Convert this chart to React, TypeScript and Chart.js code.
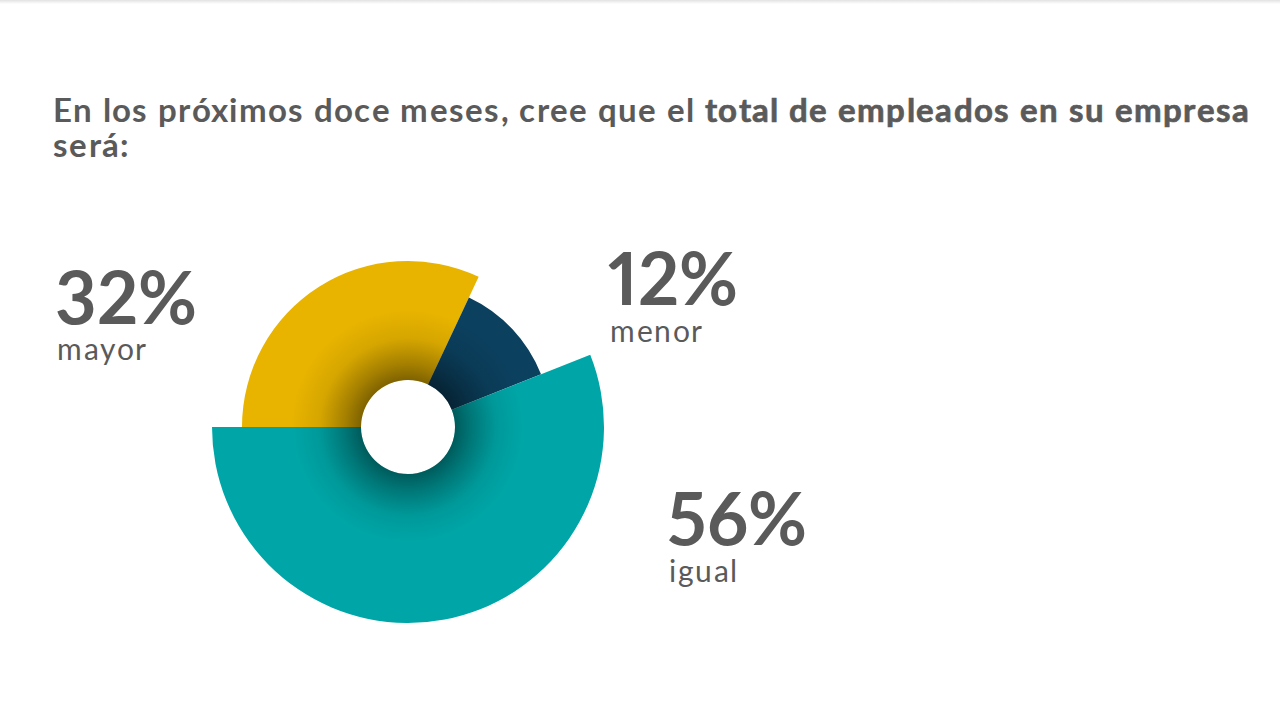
import React, { useEffect, useRef } from "react";
import { Chart, ArcElement, DoughnutController } from "chart.js";

Chart.register(ArcElement, DoughnutController);

const categories = ["mayor", "menor", "igual"];
const values = [32, 12, 56];
const valueLabels = ["32%", "12%", "56%"];
const colors = ["#E8B400", "#0B405E", "#00A6A7"];

const TEXT = "#5a5a5a";

const fontCss = `
@font-face { font-family: "LatoT"; font-weight: 400; src: local("Lato Regular"), local("Lato-Regular"), local("Lato"); ascent-override: 75%; descent-override: 22%; line-gap-override: 0%; }
@font-face { font-family: "LatoT"; font-weight: 700; src: local("Lato Bold"), local("Lato-Bold"); ascent-override: 75%; descent-override: 22%; line-gap-override: 0%; }
@font-face { font-family: "LatoP"; font-weight: 700; src: local("Lato Bold"), local("Lato-Bold"); ascent-override: 75%; descent-override: 3%; line-gap-override: 0%; }
`;

const variableRadius = {
  id: "variableRadius",
  beforeDatasetsDraw(chart: any, _args: any, opts: any) {
    const meta = chart.getDatasetMeta(0);
    const ctrl: any = meta.controller;
    meta.data.forEach((el: any, i: number) => {
      const f = opts.factors && opts.factors[i] != null ? opts.factors[i] : 1;
      el.outerRadius = ctrl.outerRadius * f;
    });
  },
};

const innerShadow = {
  id: "innerShadow",
  afterDatasetsDraw(chart: any, _args: any, opts: any) {
    const meta = chart.getDatasetMeta(0);
    const el: any = meta.data[0];
    if (!el) return;
    const { x, y, innerRadius } = el;
    const r1 = innerRadius + opts.spread;
    const ctx = chart.ctx as CanvasRenderingContext2D;
    ctx.save();
    const g = ctx.createRadialGradient(x, y, innerRadius, x, y, r1);
    g.addColorStop(0, "rgba(0,0,0,0.45)");
    g.addColorStop(0.25, "rgba(0,0,0,0.28)");
    g.addColorStop(0.6, "rgba(0,0,0,0.08)");
    g.addColorStop(1, "rgba(0,0,0,0)");
    ctx.beginPath();
    ctx.arc(x, y, r1, 0, Math.PI * 2);
    ctx.arc(x, y, innerRadius, 0, Math.PI * 2, true);
    ctx.fillStyle = g;
    ctx.fill("evenodd");
    ctx.restore();
  },
};

const labelPos = [
  { left: 55, top: 270, subTop: 337 },
  { left: 608, top: 251, subTop: 319 },
  { left: 667, top: 491, subTop: 559 },
];

export default function App() {
  const ref = useRef<HTMLCanvasElement | null>(null);

  useEffect(() => {
    if (!ref.current) return;
    const chart = new Chart(ref.current, {
      type: "doughnut",
      data: {
        labels: categories,
        datasets: [
          {
            data: values,
            backgroundColor: colors,
            borderWidth: 0,
            hoverOffset: 0,
          },
        ],
      },
      options: {
        animation: false,
        responsive: false,
        events: [],
        cutout: 47,
        rotation: -90,
        layout: { padding: 4 },
        plugins: {
          // @ts-ignore
          variableRadius: { factors: [0.847, 0.73, 1] },
          // @ts-ignore
          innerShadow: { spread: 70 },
        },
      } as any,
      plugins: [variableRadius, innerShadow] as any,
    });
    return () => chart.destroy();
  }, []);

  return (
    <div
      style={{
        position: "fixed",
        left: 0,
        top: 0,
        width: 1280,
        height: 719,
        background: "#fff",
        overflow: "hidden",
        fontFamily: "LatoT, Lato, sans-serif",
        color: TEXT,
      }}
    >
      <style>{fontCss}</style>
      <div
        style={{
          position: "absolute",
          left: 0,
          top: 0,
          width: 1280,
          height: 4,
          background: "linear-gradient(#e2e2e2, #ffffff)",
        }}
      />
      <div
        style={{
          position: "absolute",
          left: 53,
          top: 96,
          width: 1225,
          fontSize: 33,
          lineHeight: "35px",
          fontWeight: 700,
          letterSpacing: 1.3,
          whiteSpace: "nowrap",
        }}
      >
        En los próximos doce meses, cree que el{" "}
        <span style={{ WebkitTextStroke: "0.7px " + TEXT } as any}>
          total de empleados en su empresa
        </span>
        <br />
        será:
      </div>
      <canvas
        ref={ref}
        width={400}
        height={400}
        style={{ position: "absolute", left: 208, top: 227, width: 400, height: 400 }}
      />
      {categories.map((c, i) => (
        <React.Fragment key={c}>
          <div
            style={{
              position: "absolute",
              left: labelPos[i].left,
              top: labelPos[i].top,
              fontFamily: "LatoP, Lato, sans-serif",
              fontSize: 72,
              lineHeight: "56px",
              fontWeight: 700,
              fontVariantNumeric: "proportional-nums",
              whiteSpace: "nowrap",
            }}
          >
            {valueLabels[i]}
          </div>
          <div
            style={{
              position: "absolute",
              left: labelPos[i].left + 2,
              top: labelPos[i].subTop,
              fontSize: 30,
              lineHeight: "30px",
              fontWeight: 400,
              letterSpacing: 1.5,
              whiteSpace: "nowrap",
            }}
          >
            {c}
          </div>
        </React.Fragment>
      ))}
    </div>
  );
}
